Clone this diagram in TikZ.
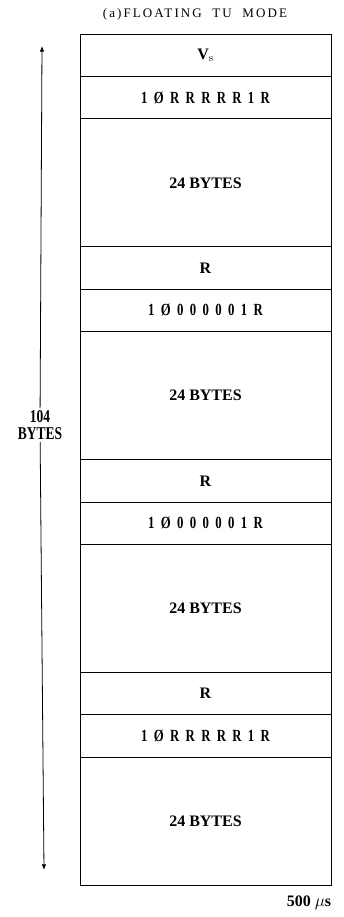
\documentclass[tikz,border=0pt]{standalone}
\usepackage{fontspec}
\usepackage{tikz}
\usetikzlibrary{positioning, arrows.meta}
\newfontfamily\titlefont[LetterSpace=16]{Liberation Serif}
\newfontfamily\fieldfont{Liberation Serif}
\newfontfamily\narrowfont[FakeStretch=0.75]{Liberation Serif}

\begin{document}
\begin{tikzpicture}[
    x=1pt, y=-1pt,
    font=\fieldfont\bfseries\fontsize{16}{18}\selectfont,
    fld/.style={draw, line width=0.8pt, minimum width=251pt, minimum height=42.4pt,
                inner sep=0pt, outer sep=0pt, align=center},
    big/.style={fld, minimum height=128pt},
    bits/.style={fld, font=\narrowfont\bfseries\fontsize{17}{19}\selectfont},
    ar/.style={-{Latex[length=2mm, width=1.6mm]}, line width=0.8pt},
    node distance=0pt,
  ]
  \useasboundingbox (0,0) rectangle (344,917);

  \node[font=\titlefont\fontsize{13}{15}\selectfont] (title) at (195,14) {(a)FLOATING\ \ TU\ \ MODE};

  % frame fields, top to bottom
  \node[fld, anchor=north west] (vs) at (80,34) {V$_\mathrm{s}$};
  \node[bits, below=of vs] (sync1) {1\ \ \O\ \ R\ \ R\ \ R\ \ R\ \ R\ \ 1\ \ R};
  \node[big, below=of sync1] (data1) {24 BYTES};
  \node[fld, below=of data1] (r1) {R};
  \node[bits, below=of r1] (sync2) {1\ \ \O\ \ 0\ \ 0\ \ 0\ \ 0\ \ 0\ \ 1\ \ R};
  \node[big, below=of sync2] (data2) {24 BYTES};
  \node[fld, below=of data2] (r2) {R};
  \node[bits, below=of r2] (sync3) {1\ \ \O\ \ 0\ \ 0\ \ 0\ \ 0\ \ 0\ \ 1\ \ R};
  \node[big, below=of sync3] (data3) {24 BYTES};
  \node[fld, below=of data3] (r3) {R};
  \node[bits, below=of r3] (sync4) {1\ \ \O\ \ R\ \ R\ \ R\ \ R\ \ R\ \ 1\ \ R};
  \node[big, below=of sync4] (data4) {24 BYTES};

  % overall length
  \coordinate (lentop) at (42,46);
  \coordinate (lenbot) at (44,870);
  \node[align=center, inner sep=2pt, font=\narrowfont\bfseries\fontsize{18}{17}\selectfont] (len) at (40,425)
    {104\\BYTES};
  \draw[ar] (len) -- (lentop);
  \draw[ar] (len) -- (lenbot);

  \node (dur) at (309,903) {500 $\mu$s};
\end{tikzpicture}
\end{document}
